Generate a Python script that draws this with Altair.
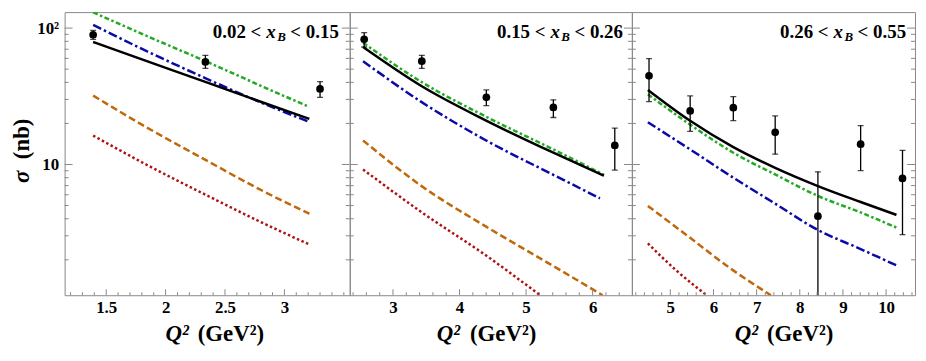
import altair as alt
import pandas as pd

# ---------------- data ----------------
Y_DOMAIN = [1.1, 131]
X_DOMAINS = [[1.15, 3.55], [2.35, 6.59], [4.11, 10.67]]
WIDTHS = [287, 284, 285]
HEIGHT = 285

bin_left = ["0.02 <", "0.15 <", "0.26 <"]
bin_right = ["< 0.15", "< 0.26", "< 0.55"]
bin_var = "x"
bin_sub = "B"
xtitle_a = "Q\u00b2"
xtitle_b = "(GeV\u00b2)"
ytitle_a = "\u03c3"
ytitle_b = "(nb)"

# measured points (x, sigma, lower, upper)
pts_x = [[1.39, 2.335, 3.30],
         [2.567, 3.433, 4.403, 5.41, 6.333],
         [4.507, 5.46, 6.46, 7.43, 8.42, 9.41, 10.38]]
pts_y = [[89.4, 56.5, 35.8],
         [82.7, 57.2, 31.1, 26.2, 13.8],
         [44.7, 24.7, 26.1, 17.2, 4.18, 14.1, 7.9]]
pts_lo = [[82.7, 50.6, 31.1],
          [72.7, 50.6, 27.0, 22.1, 9.1],
          [28.9, 17.5, 21.0, 11.9, 0.5, 9.02, 3.06]]
pts_hi = [[96.2, 63.2, 40.5],
          [92.5, 63.2, 35.2, 29.8, 18.5],
          [59.8, 31.8, 31.4, 22.7, 8.84, 19.3, 12.7]]

# model curves, panel 1
c1_x = [1.39, 1.836, 2.37, 2.789, 3.21]
c1_black = [79.1, 57.5, 39.3, 29.1, 21.6]
c1_blue = [105.5, 68.1, 41.6, 28.8, 20.5]
c1_green = [130.7, 88.0, 55.5, 38.2, 26.4]
c1_orange = [32.0, 18.8, 10.4, 6.59, 4.35]
c1_red = [16.3, 10.0, 5.8, 3.83, 2.59]

# panel 2
c2_x = [2.55, 3.42, 4.40, 5.41, 6.17]
c2_black = [72.7, 37.8, 21.0, 12.2, 8.27]
c2_green = [78.2, 40.5, 22.4, 12.9, 8.4]
c2_blue_x = [2.55, 3.42, 4.40, 5.41, 6.11]
c2_blue = [57.2, 28.9, 15.0, 8.4, 5.65]
c2_orange_x = [2.55, 3.42, 4.40, 5.41, 6.15]
c2_orange = [15.0, 7.0, 3.5, 1.8, 1.1]
c2_red_x = [2.55, 3.42, 4.40, 5.21]
c2_red = [9.2, 4.5, 2.15, 1.1]

# panel 3
c3_x = [4.48, 5.46, 6.46, 7.43, 8.42, 9.41, 10.24]
c3_black = [35.2, 20.9, 13.4, 9.45, 6.95, 5.31, 4.27]
c3_green = [32.7, 19.6, 12.2, 8.45, 5.88, 4.45, 3.45]
c3_blue = [20.4, 12.9, 8.0, 5.16, 3.31, 2.40, 1.82]
c3_orange_x = [4.48, 5.46, 6.37, 7.33]
c3_orange = [4.97, 2.9, 1.75, 1.1]
c3_red_x = [4.48, 5.14, 5.84]
c3_red = [2.64, 1.67, 1.1]

curves = [
    {"orange": (c1_x, c1_orange), "red": (c1_x, c1_red), "blue": (c1_x, c1_blue),
     "green": (c1_x, c1_green), "black": (c1_x, c1_black)},
    {"orange": (c2_orange_x, c2_orange), "red": (c2_red_x, c2_red), "blue": (c2_blue_x, c2_blue),
     "green": (c2_x, c2_green), "black": (c2_x, c2_black)},
    {"orange": (c3_orange_x, c3_orange), "red": (c3_red_x, c3_red), "blue": (c3_x, c3_blue),
     "green": (c3_x, c3_green), "black": (c3_x, c3_black)},
]

# axis ticks
x_major = [[1.5, 2, 2.5, 3], [3, 4, 5, 6], [5, 6, 7, 8, 9, 10]]
x_minor = [
    [1.2, 1.3, 1.4, 1.6, 1.7, 1.8, 1.9, 2.1, 2.2, 2.3, 2.4, 2.6, 2.7, 2.8, 2.9,
     3.1, 3.2, 3.3, 3.4, 3.5],
    [2.4, 2.6, 2.8, 3.2, 3.4, 3.6, 3.8, 4.2, 4.4, 4.6, 4.8, 5.2, 5.4, 5.6, 5.8,
     6.2, 6.4],
    [4.2, 4.4, 4.6, 4.8, 5.2, 5.4, 5.6, 5.8, 6.2, 6.4, 6.6, 6.8, 7.2, 7.4, 7.6, 7.8,
     8.2, 8.4, 8.6, 8.8, 9.2, 9.4, 9.6, 9.8, 10.2, 10.4, 10.6],
]
y_major = [10, 100]
y_minor = [2, 3, 4, 5, 6, 7, 8, 9, 20, 30, 40, 50, 60, 70, 80, 90]

# ---------------- styles ----------------
STYLE = {
    "orange": dict(color="#c0680a", strokeDash=[7, 3.5]),
    "red": dict(color="#b01010", strokeDash=[2.5, 2.5]),
    "blue": dict(color="#0a0aa8", strokeDash=[9, 3, 2.5, 3]),
    "green": dict(color="#22aa22", strokeDash=[5, 2.5, 2.5, 2.5]),
    "black": dict(color="#000000"),
}
FRAME = "#888888"
SERIF = "Liberation Serif"

yscale = alt.Scale(type="log", domain=Y_DOMAIN, nice=False)

label_right = [11, 9, 9]
xt_a = [125, 111, 127]
xt_b = [134, 121, 136]


def one(s):
    return pd.DataFrame({"t": [s]})


def panel(i):
    W = WIDTHS[i]
    xscale = alt.Scale(domain=X_DOMAINS[i], nice=False, zero=False)
    xaxis = alt.Axis(values=x_major[i], format="~r", ticks=False, domain=False, grid=False,
                     labelFont=SERIF, labelFontWeight="bold", labelFontSize=17,
                     labelColor="black", labelPadding=4, title=None)
    if i == 0:
        yaxis = alt.Axis(values=y_major, labelExpr="datum.value == 100 ? '10\u00b2' : '10'",
                         ticks=False, domain=False, grid=False, labelFont=SERIF,
                         labelFontWeight="bold", labelFontSize=17, labelColor="black",
                         labelPadding=6, title=None)
    else:
        yaxis = None

    def X(f):
        return alt.X(f, type="quantitative", scale=xscale, axis=xaxis)

    def Y(f):
        return alt.Y(f, type="quantitative", scale=yscale, axis=yaxis)

    layers = []
    for name in ["orange", "red", "blue", "green", "black"]:
        xs, ys = curves[i][name]
        df = pd.DataFrame({"x": xs, "y": ys})
        layers.append(alt.Chart(df).mark_line(interpolate="monotone", clip=True,
                                              strokeWidth=2.5, **STYLE[name])
                      .encode(x=X("x"), y=Y("y")))

    pdf = pd.DataFrame({"x": pts_x[i], "y": pts_y[i], "lo": pts_lo[i], "hi": pts_hi[i]})
    base = alt.Chart(pdf)
    layers.append(base.mark_rule(color="black", strokeWidth=1.3, clip=True)
                  .encode(x=X("x"), y=Y("lo"), y2="hi"))
    layers.append(base.mark_tick(color="black", orient="horizontal", size=6,
                                 thickness=1.3, clip=True).encode(x=X("x"), y=Y("lo")))
    layers.append(base.mark_tick(color="black", orient="horizontal", size=6,
                                 thickness=1.3, clip=True).encode(x=X("x"), y=Y("hi")))
    layers.append(base.mark_point(filled=True, color="black", size=60, opacity=1)
                  .encode(x=X("x"), y=Y("y")))

    # inward ticks
    ymaj = alt.Chart(pd.DataFrame({"v": y_major}))
    ymin = alt.Chart(pd.DataFrame({"v": y_minor}))
    layers.append(ymaj.mark_rule(color=FRAME, strokeWidth=1)
                  .encode(y=Y("v"), x=alt.value(0), x2=alt.value(8)))
    layers.append(ymin.mark_rule(color=FRAME, strokeWidth=1)
                  .encode(y=Y("v"), x=alt.value(0), x2=alt.value(4)))
    layers.append(ymaj.mark_rule(color=FRAME, strokeWidth=1)
                  .encode(y=Y("v"), x=alt.value(W), x2=alt.value(W - 8)))
    layers.append(ymin.mark_rule(color=FRAME, strokeWidth=1)
                  .encode(y=Y("v"), x=alt.value(W), x2=alt.value(W - 4)))
    xmaj = alt.Chart(pd.DataFrame({"v": x_major[i]}))
    xmin = alt.Chart(pd.DataFrame({"v": x_minor[i]}))
    layers.append(xmaj.mark_rule(color=FRAME, strokeWidth=1)
                  .encode(x=X("v"), y=alt.value(HEIGHT), y2=alt.value(HEIGHT - 6)))
    layers.append(xmin.mark_rule(color=FRAME, strokeWidth=1)
                  .encode(x=X("v"), y=alt.value(HEIGHT), y2=alt.value(HEIGHT - 3)))

    # bin label
    R = W - label_right[i]
    txt = dict(font=SERIF, fontWeight="bold", color="black", baseline="alphabetic")
    layers.append(alt.Chart(one(bin_right[i])).mark_text(align="right", fontSize=19, **txt)
                  .encode(x=alt.value(R), y=alt.value(26), text="t:N"))
    layers.append(alt.Chart(one(bin_sub)).mark_text(align="left", fontSize=13,
                                                     fontStyle="italic", **txt)
                  .encode(x=alt.value(R - 62), y=alt.value(29), text="t:N"))
    layers.append(alt.Chart(one(bin_var)).mark_text(align="left", fontSize=19,
                                                     fontStyle="italic", **txt)
                  .encode(x=alt.value(R - 73), y=alt.value(26), text="t:N"))
    layers.append(alt.Chart(one(bin_left[i])).mark_text(align="right", fontSize=19, **txt)
                  .encode(x=alt.value(R - 78), y=alt.value(26), text="t:N"))

    # x title
    layers.append(alt.Chart(one(xtitle_a)).mark_text(align="right", fontSize=23,
                                                      fontStyle="italic", **txt)
                  .encode(x=alt.value(xt_a[i]), y=alt.value(331), text="t:N"))
    layers.append(alt.Chart(one(xtitle_b)).mark_text(align="left", fontSize=23, **txt)
                  .encode(x=alt.value(xt_b[i]), y=alt.value(331), text="t:N"))

    if i == 0:
        layers.append(alt.Chart(one(ytitle_a)).mark_text(align="left", fontSize=23, angle=270,
                                                          fontStyle="italic", **txt)
                      .encode(x=alt.value(-36), y=alt.value(172), text="t:N"))
        layers.append(alt.Chart(one(ytitle_b)).mark_text(align="left", fontSize=23, angle=270,
                                                          **txt)
                      .encode(x=alt.value(-36), y=alt.value(148), text="t:N"))

    return alt.layer(*layers).properties(width=W, height=HEIGHT)


chart = alt.hconcat(panel(0), panel(1), panel(2), spacing=0, bounds="flush").properties(
    padding={"left": 2, "top": 2, "right": 2, "bottom": 2},
    background="white",
).configure_view(stroke=FRAME, strokeWidth=1)

chart.save("out.html", embed_options={"renderer": "svg", "actions": False})
